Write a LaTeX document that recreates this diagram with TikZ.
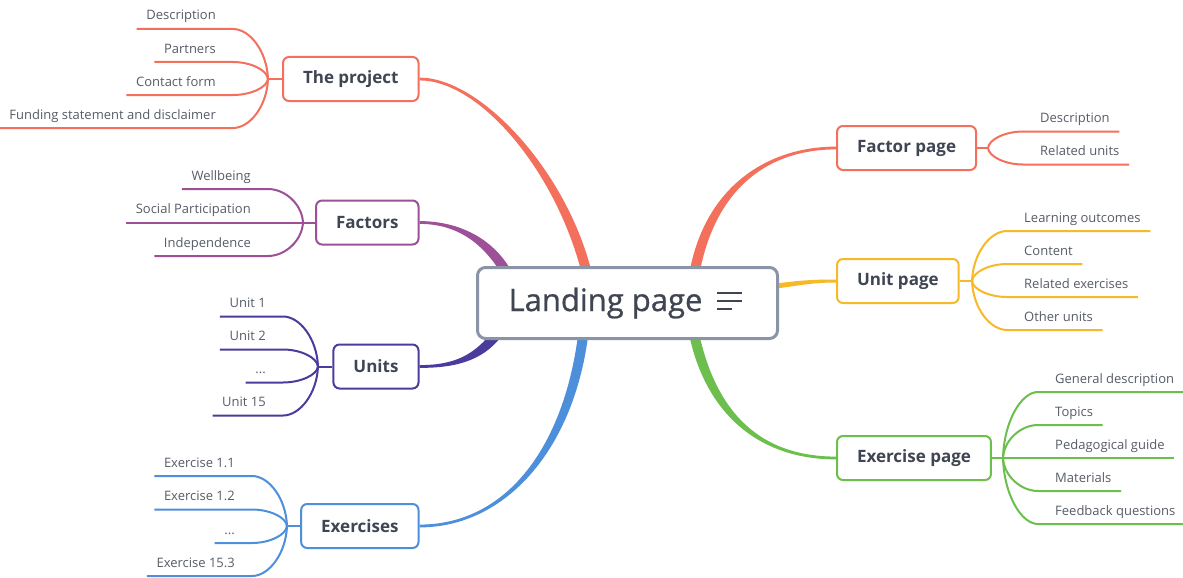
\documentclass[tikz,border=0pt]{standalone}
\usepackage{fontspec}
\setmainfont{Open Sans}
\usetikzlibrary{calc,backgrounds}

\definecolor{ink}{HTML}{3F4552}
\definecolor{leafink}{HTML}{575C67}
\definecolor{coral}{HTML}{F3705C}
\definecolor{plum}{HTML}{9D4F98}
\definecolor{indigo}{HTML}{4A3C9C}
\definecolor{sky}{HTML}{4E8FDB}
\definecolor{amber}{HTML}{F6B928}
\definecolor{grass}{HTML}{6CBF4C}
\definecolor{frame}{HTML}{8A94A6}

\tikzset{
  topic/.style={draw=#1, line width=2pt, rounded corners=6pt, fill=white,
    minimum height=44pt, inner xsep=20pt, inner ysep=0pt,
    font=\bfseries\fontsize{17}{20}\selectfont, text=ink},
  hub/.style={draw=frame, line width=3pt, rounded corners=8pt, fill=white,
    minimum width=300pt, minimum height=71pt, inner sep=0pt,
    font=\fontsize{31}{36}\selectfont\addfontfeatures{FakeBold=0.7}, text=ink},
  subtopic/.style={inner sep=0pt, font=\fontsize{13}{15}\selectfont, text=leafink},
  twig/.style={line width=2pt, draw=#1},
}

% tapered main branch: colour, start, control 1, control 2, end,
% half-width offset at start (x,y), half-width at end
\newcommand\taper[8]{%
  \fill[#1] ($(#2)+(#6,#7)$) .. controls ($(#3)+(#6,#7)$) and ($(#4)+(0,-#8)$)
    .. ($(#5)+(0,-#8)$) -- ($(#5)+(0,#8)$) .. controls ($(#4)+(0,#8)$) and ($(#3)-(#6,#7)$)
    .. ($(#2)-(#6,#7)$) -- cycle;}

% leaf on the left: colour, fork, fork x, fork y, underline y, name, label
\newcommand\leafL[7]{%
  \node[subtopic, anchor=base east] (#6) at (#3-52,#5-9) {#7};
  \draw[twig=#1] ([xshift=-9.5pt]#6.west |- 0,#5) -- (#3-35,#5)
    .. controls (#3-18,#5) and (#3-1,{#5+0.45*(#4-#5)}) .. (#2);}

% leaf on the right: colour, fork, fork x, fork y, underline y, name, label
\newcommand\leafR[7]{%
  \node[subtopic, anchor=base west] (#6) at (#3+52,#5-9) {#7};
  \draw[twig=#1] (#2) .. controls (#3+1,{#5+0.45*(#4-#5)}) and (#3+18,#5)
    .. (#3+35,#5) -- ([xshift=9.5pt]#6.east |- 0,#5);}

\begin{document}
\begin{tikzpicture}[x=1pt,y=-1pt]
\useasboundingbox (0,0) rectangle (1183,578);

% central topic, with its notes icon
\node[hub] (lp) at (627.5,303) {Landing page\rule{44pt}{0pt}};
\draw[ink, line width=2pt] ($(lp.center)+(89.5,-10)$) -- ++(25,0);
\draw[ink, line width=2pt] ($(lp.center)+(89.5,-2)$) -- ++(25,0);
\draw[ink, line width=2pt] ($(lp.center)+(89.5,6)$) -- ++(15,0);

% main topics
\node[topic=coral, anchor=east] (proj) at (419.5,79) {The project};
\node[topic=plum, anchor=east] (fact) at (419.5,222.5) {Factors};
\node[topic=indigo, anchor=east] (units) at (419.5,366.5) {Units};
\node[topic=sky, anchor=east] (exer) at (419.5,526) {Exercises};
\node[topic=coral, anchor=west] (fpage) at (836,148) {Factor page};
\node[topic=amber, anchor=west] (upage) at (836,281) {Unit page};
\node[topic=grass, anchor=west] (epage) at (836,458) {Exercise page};

% branch roots on the central topic
\coordinate (sProj) at ($(lp.center)+(-41.5,-33)$);
\coordinate (sFact) at ($(lp.center)+(-122.5,-33)$);
\coordinate (sUnits) at ($(lp.center)+(-130.5,31)$);
\coordinate (sExer) at ($(lp.center)+(-44.5,33)$);
\coordinate (sFpage) at ($(lp.center)+(67.5,-33)$);
\coordinate (sUpage) at ($(lp.center)+(148.5,-17)$);
\coordinate (sEpage) at ($(lp.center)+(67,33)$);

\begin{pgfonlayer}{background}
  \fill[white] (0,0) rectangle (1183,578);
  \taper{coral}{sProj}{560,170}{480,79}{proj.east}{4.9}{-0.9}{1.4}
  \taper{plum}{sFact}{485,238}{455,222.5}{fact.east}{4.2}{-2.7}{1.4}
  \taper{indigo}{sUnits}{478,358}{455,366.5}{units.east}{-3.9}{-3.1}{1.4}
  \taper{sky}{sExer}{568,450}{505,526}{exer.east}{-5}{-0.6}{1.4}
  \taper{coral}{sFpage}{712,185}{770,148}{fpage.west}{-4.9}{-1}{1.4}
  \taper{amber}{sUpage}{800,283}{812,281}{upage.west}{0}{-2.5}{1.5}
  \taper{grass}{sEpage}{712,414}{760,458}{epage.west}{4.8}{-1.3}{1.4}
\end{pgfonlayer}

% forks beside the main topics
\coordinate (fProj) at (268,79);
\coordinate (fFact) at (303,222.5);
\coordinate (fUnits) at (318,366.5);
\coordinate (fExer) at (287,526);
\coordinate (fFpage) at (988,148);
\coordinate (fUpage) at (972,281);
\coordinate (fEpage) at (1003,458);

\draw[twig=coral] (fProj) -- (proj.west);
\draw[twig=plum] (fFact) -- (fact.west);
\draw[twig=indigo] (fUnits) -- (units.west);
\draw[twig=sky] (fExer) -- (exer.west);
\draw[twig=coral] (fpage.east) -- (fFpage);
\draw[twig=amber] (upage.east) -- (fUpage);
\draw[twig=grass] (epage.east) -- (fEpage);

% The project
\leafL{coral}{fProj}{268}{79}{29}{pDesc}{Description}
\leafL{coral}{fProj}{268}{79}{62}{pPart}{Partners}
\leafL{coral}{fProj}{268}{79}{95}{pCont}{Contact form}
\leafL{coral}{fProj}{268}{79}{128}{pFund}{Funding statement and disclaimer}

% Factors
\leafL{plum}{fFact}{303}{222.5}{189}{fWell}{Wellbeing}
\leafL{plum}{fFact}{303}{222.5}{222.5}{fSoc}{Social Participation}
\leafL{plum}{fFact}{303}{222.5}{256}{fInd}{Independence}

% Units
\leafL{indigo}{fUnits}{318}{366.5}{316.5}{uOne}{Unit 1}
\leafL{indigo}{fUnits}{318}{366.5}{349.5}{uTwo}{Unit 2}
\leafL{indigo}{fUnits}{318}{366.5}{382.5}{uDots}{...}
\leafL{indigo}{fUnits}{318}{366.5}{415.5}{uLast}{Unit 15}

% Exercises
\leafL{sky}{fExer}{287}{526}{476}{eOne}{Exercise 1.1}
\leafL{sky}{fExer}{287}{526}{509.5}{eTwo}{Exercise 1.2}
\leafL{sky}{fExer}{287}{526}{543}{eDots}{...}
\leafL{sky}{fExer}{287}{526}{576}{eLast}{Exercise 15.3}

% Factor page
\leafR{coral}{fFpage}{988}{148}{131.5}{fpDesc}{Description}
\leafR{coral}{fFpage}{988}{148}{164.5}{fpRel}{Related units}

% Unit page
\leafR{amber}{fUpage}{972}{281}{231}{upLearn}{Learning outcomes}
\leafR{amber}{fUpage}{972}{281}{264}{upCont}{Content}
\leafR{amber}{fUpage}{972}{281}{297}{upRel}{Related exercises}
\leafR{amber}{fUpage}{972}{281}{330}{upOther}{Other units}

% Exercise page
\leafR{grass}{fEpage}{1003}{458}{392}{epGen}{General description}
\leafR{grass}{fEpage}{1003}{458}{425}{epTop}{Topics}
\leafR{grass}{fEpage}{1003}{458}{458}{epPed}{Pedagogical guide}
\leafR{grass}{fEpage}{1003}{458}{491}{epMat}{Materials}
\leafR{grass}{fEpage}{1003}{458}{524}{epFeed}{Feedback questions}
\end{tikzpicture}
\end{document}
